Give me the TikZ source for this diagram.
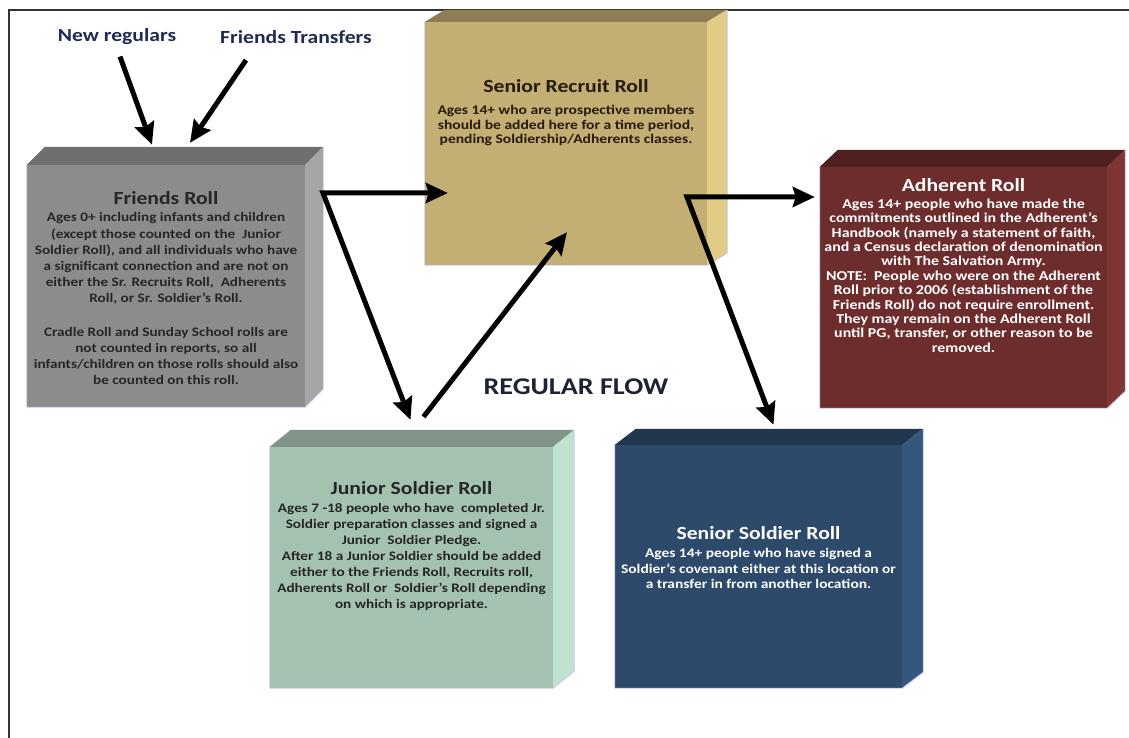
\documentclass[tikz,border=0pt]{standalone}
\usepackage{fontspec}
\setmainfont{Carlito}[FakeStretch=1.17]
\usepackage{tikz}
\usetikzlibrary{calc,positioning,arrows.meta}

\definecolor{frameline}{HTML}{333333}
\definecolor{rim}{HTML}{C8C4E8}
\definecolor{navy}{HTML}{1F2B52}
\definecolor{flowtxt}{HTML}{1D2235}
\definecolor{friendsfront}{HTML}{8C8C8C}
\definecolor{friendstop}{HTML}{6F6F6F}
\definecolor{friendsside}{HTML}{A6A6A6}
\definecolor{recruitfront}{HTML}{C3AE73}
\definecolor{recruittop}{HTML}{8F7E55}
\definecolor{recruitside}{HTML}{E1CB85}
\definecolor{adherentfront}{HTML}{6E2D2D}
\definecolor{adherenttop}{HTML}{4F2020}
\definecolor{adherentside}{HTML}{803535}
\definecolor{juniorfront}{HTML}{A4C2B0}
\definecolor{juniortop}{HTML}{809488}
\definecolor{juniorside}{HTML}{C0E2D0}
\definecolor{soldierfront}{HTML}{2D4A6B}
\definecolor{soldiertop}{HTML}{22374F}
\definecolor{soldierside}{HTML}{34577D}

% top and side faces of a roll box: node, top colour, side colour, dx, dy
\newcommand{\rollbevel}[5]{%
  \fill[#2] (#1.north west) -- ++(#4,-#5) -- ($(#1.north east)+(#4,-#5)$)
            -- (#1.north east) -- cycle;
  \fill[#3] (#1.north east) -- ++(#4,-#5) -- ($(#1.south east)+(#4,-#5)$)
            -- (#1.south east) -- cycle;
  \draw[rim,line width=0.8pt] (#1.north west) |- (#1.south east) -- ++(#4,-#5)
            -- ($(#1.north east)+(#4,-#5)$);
}

\begin{document}
\begin{tikzpicture}[x=1pt,y=-1pt,>={Stealth[length=22pt,width=20pt,inset=3pt]},
  roll/.style={rectangle,inner sep=0pt},
  rolltext/.style={anchor=north,inner sep=0pt,align=center},
  flowlabel/.style={font=\fontsize{18.5}{20}\selectfont\bfseries,text=navy},
  flow/.style={line width=5pt}]

  \useasboundingbox (0,0) rectangle (1129,738);

  \draw[frameline,line width=2pt] (1129,10) -- (9,10) -- (9,738);

  \node[roll,fill=friendsfront,minimum width=278,minimum height=242] (friends) at (166,286) {};
  \node[roll,fill=recruitfront,minimum width=282,minimum height=243] (recruit) at (566,143.5) {};
  \node[roll,fill=adherentfront,minimum width=287,minimum height=241] (adherent) at (963.5,287.5) {};
  \node[roll,fill=juniorfront,minimum width=283,minimum height=241] (junior) at (411.5,567.5) {};
  \node[roll,fill=soldierfront,minimum width=287,minimum height=243] (soldier) at (758.5,566.5) {};

  \rollbevel{friends}{friendstop}{friendsside}{18}{18}
  \rollbevel{recruit}{recruittop}{recruitside}{20}{12}
  \rollbevel{adherent}{adherenttop}{adherentside}{18}{17}
  \rollbevel{junior}{juniortop}{juniorside}{21}{17}
  \rollbevel{soldier}{soldiertop}{soldierside}{21}{16}

  \node[rolltext,text=black!85,font=\fontsize{13}{16.2}\selectfont\bfseries] (friendstxt) at (166,191.4)
    {{\fontsize{18.5}{20}\selectfont Friends Roll}\\[1.1pt]
     Ages 0+ including infants and children\\
     (except those counted on the~ Junior\\
     Soldier Roll), and all individuals who have\\
     a significant connection and are not on\\
     either the Sr. Recruits Roll,~ Adherents\\
     Roll, or Sr. Soldier’s Roll.\\[17.2pt]
     Cradle Roll and Sunday School rolls are\\
     not counted in reports, so all\\
     infants/children on those rolls should also\\
     be counted on this roll.};

  \node[rolltext,text=black!80!brown,font=\fontsize{13.3}{14.6}\selectfont\bfseries] (recruittxt) at (566,79.4)
    {{\fontsize{18.5}{20}\selectfont Senior Recruit Roll}\\[7.4pt]
     Ages 14+ who are prospective members\\
     should be added here for a time period,\\
     pending Soldiership/Adherents classes.};

  \node[rolltext,text=white,font=\fontsize{13.6}{14.4}\selectfont\bfseries] (adherenttxt) at (963.5,178.4)
    {{\fontsize{18.5}{20}\selectfont Adherent Roll}\\[2.4pt]
     Ages 14+ people who have made the\\
     commitments outlined in the Adherent’s\\
     Handbook (namely a statement of faith,\\
     and a Census declaration of denomination\\
     with The Salvation Army.\\
     NOTE:~ People who were on the Adherent\\
     Roll prior to 2006 (establishment of the\\
     Friends Roll) do not require enrollment.\\
     They may remain on the Adherent Roll\\
     until PG, transfer, or other reason to be\\
     removed.};

  \node[rolltext,text=black!85,font=\fontsize{13}{16}\selectfont\bfseries] (juniortxt) at (411.5,481.7)
    {{\fontsize{18.5}{20}\selectfont Junior Soldier Roll}\\[2pt]
     Ages 7 -18 people who have~ completed Jr.\\
     Soldier preparation classes and signed a\\
     Junior~ Soldier Pledge.\\
     After 18 a Junior Soldier should be added\\
     either to the Friends Roll, Recruits roll,\\
     Adherents Roll or~ Soldier’s Roll depending\\
     on which is appropriate.};

  \node[rolltext,text=white,font=\fontsize{13.2}{15.8}\selectfont\bfseries] (soldiertxt) at (758.5,526.1)
    {{\fontsize{18.5}{20}\selectfont Senior Soldier Roll}\\[2.2pt]
     Ages 14+ people who have signed a\\
     Soldier’s covenant either at this location or\\
     a transfer in from another location.};

  \node[flowlabel] (newreg) at (117,37) {New regulars};
  \node[flowlabel] (transfers) at (296,37) {Friends Transfers};
  \node[flowlabel,text=flowtxt,font=\fontsize{24}{26}\selectfont\bfseries] (regflow) at (576,387) {REGULAR FLOW};

  \coordinate (fork1) at (323,193);
  \coordinate (fork2) at (687,197);

  \draw[flow,->] ($(newreg.south)+(3,8)$) -- ($(friends.north)+(-14,-20)$);
  \draw[flow,->] ($(transfers.south)+(-50,13)$) -- ($(friends.north)+(24,-22)$);
  \draw[flow,<->] ($(recruit.west |- fork1)+(23,0)$) -- (fork1) -- ($(junior.north)+(-1,-27)$);
  \draw[flow,->] ($(junior.north)+(12,-30)$) -- ($(recruit.south)+(1,-33)$);
  \draw[flow,<->] ($(adherent.west |- fork2)+(-5,0)$) -- (fork2) -- ($(soldier.north)+(15,-20)$);

\end{tikzpicture}
\end{document}
